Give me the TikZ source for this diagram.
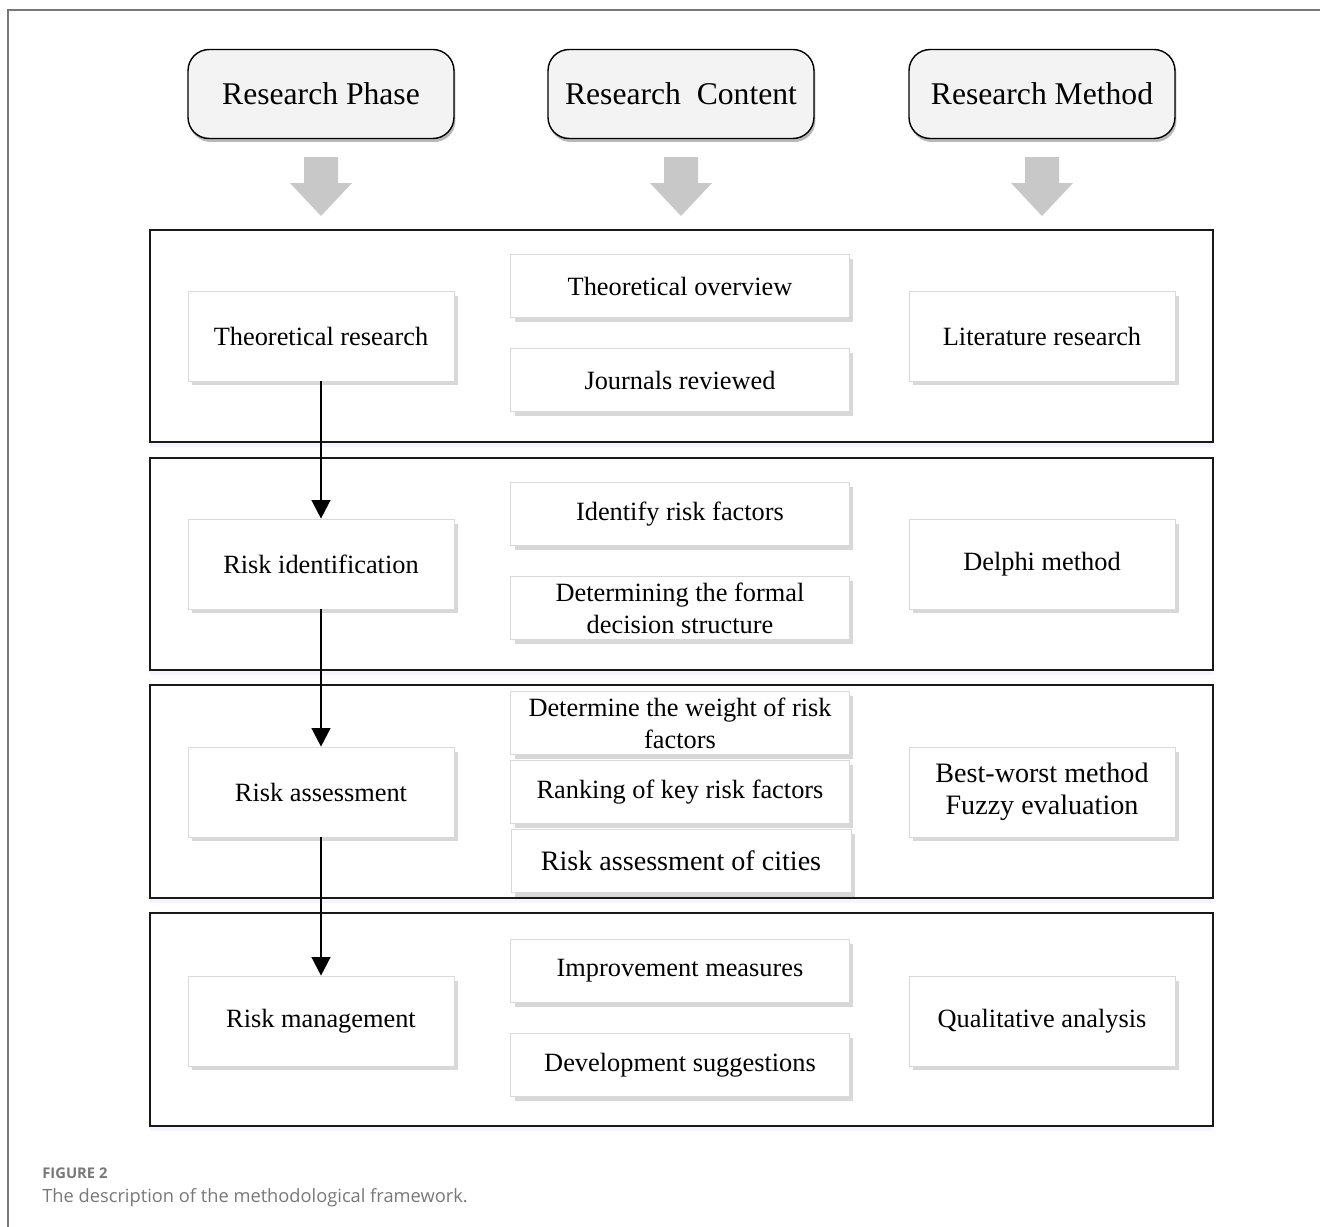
\documentclass[tikz,border=0pt]{standalone}
\usepackage{fontspec}
\setmainfont{Liberation Serif}
\newfontfamily\capfont{Open Sans}
\usepackage{tikz}
\usetikzlibrary{positioning, shapes, arrows, arrows.meta, shadows, calc}

\definecolor{arrowgray}{RGB}{200,200,200}
\definecolor{headfill}{RGB}{243,243,243}
\definecolor{capgray}{RGB}{120,120,120}

\tikzset{
    header/.style={draw=black, thick, rounded corners=12pt, fill=headfill,
        minimum width=5.32cm, minimum height=1.78cm, font=\fontsize{18}{20}\selectfont,
        drop shadow={shadow xshift=0.03cm, shadow yshift=-0.07cm, fill=black!55}},
    cellbox/.style={draw=gray!30, fill=white, minimum width=5.32cm, minimum height=1.8cm,
        font=\fontsize{15}{18.2}\selectfont, align=center,
        drop shadow={shadow xshift=0.08cm, shadow yshift=-0.09cm, fill=gray!60}},
    contentbox/.style={cellbox, minimum width=6.78cm, minimum height=1.26cm},
    stageframe/.style={draw=black!90, line width=1.4pt, fill=white,
        drop shadow={shadow xshift=0cm, shadow yshift=-0.1cm, fill=blue!8}},
    bigarrow/.style={fill=arrowgray, draw=none},
    flow/.style={-{Triangle[length=10.5pt, width=10.5pt]}, line width=1.4pt, black}
}

\begin{document}
\begin{tikzpicture}[x=0.02cm, y=-0.02cm]
    \useasboundingbox (0,0) rectangle (1320,1227);
    % outer figure frame
    \draw[capgray, line width=1.2pt] (8,1227) -- (8,10) -- (1320,10);

    % headers
    \node[header] (phase) at (321,94) {Research Phase};
    \node[header] (content) at (681,94) {Research\ \ Content};
    \node[header] (method) at (1042,94) {Research Method};

    % big gray arrows
    \foreach \cx in {321,681,1042} {
        \fill[bigarrow] (\cx-17,157) -- (\cx+17,157) -- (\cx+17,183) -- (\cx+31,183)
            -- (\cx,216) -- (\cx-31,183) -- (\cx-17,183) -- cycle;
    }

    % stage frames
    \draw[stageframe] (150,230) rectangle (1213,442);
    \draw[stageframe] (150,458) rectangle (1213,670);
    \draw[stageframe] (150,685) rectangle (1213,898);
    \draw[stageframe] (150,913) rectangle (1213,1126);

    % Stage 1
    \node[cellbox] (theory) at (321,336) {Theoretical research};
    \node[contentbox] (overview) at (680,286) {Theoretical overview};
    \node[contentbox] (journals) at (680,380) {Journals reviewed};
    \node[cellbox] (literature) at (1042,336) {Literature research};

    % Stage 2
    \node[cellbox] (identify) at (321,564) {Risk identification};
    \node[contentbox] (factors) at (680,514) {Identify risk factors};
    \node[contentbox] (structure) at (680,608) {Determining the formal\\decision structure};
    \node[cellbox] (delphi) at (1042,564) {Delphi method};

    % Stage 3
    \node[cellbox] (assess) at (321,792) {Risk assessment};
    \node[contentbox] (weight) at (680,723) {Determine the weight of risk\\factors};
    \node[contentbox] (ranking) at (680,792) {Ranking of key risk factors};
    \node[contentbox, minimum width=6.8cm, font=\fontsize{16}{18.5}\selectfont] (cities) at (681,861) {Risk assessment of cities};
    \node[cellbox, font=\fontsize{16}{18.5}\selectfont] (bwm) at (1042,792) {Best-worst method\\Fuzzy evaluation};

    % Stage 4
    \node[cellbox] (manage) at (321,1021) {Risk management};
    \node[contentbox] (improve) at (680,971) {Improvement measures};
    \node[contentbox] (develop) at (680,1065) {Development suggestions};
    \node[cellbox] (qualitative) at (1042,1021) {Qualitative analysis};

    % flow between stages
    \draw[flow] (theory) -- (identify);
    \draw[flow] (identify) -- (assess);
    \draw[flow] (assess) -- (manage);

    % caption
    \node[anchor=base west, inner sep=0pt, text=capgray, font=\capfont\fontsize{8.4}{10}\selectfont\bfseries] (figno) at (42,1178) {FIGURE 2};
    \node[anchor=base west, inner sep=0pt, text=capgray, font=\capfont\fontsize{10.4}{12}\selectfont] (caption) at (42,1202) {The description of the methodological framework.};
\end{tikzpicture}
\end{document}
